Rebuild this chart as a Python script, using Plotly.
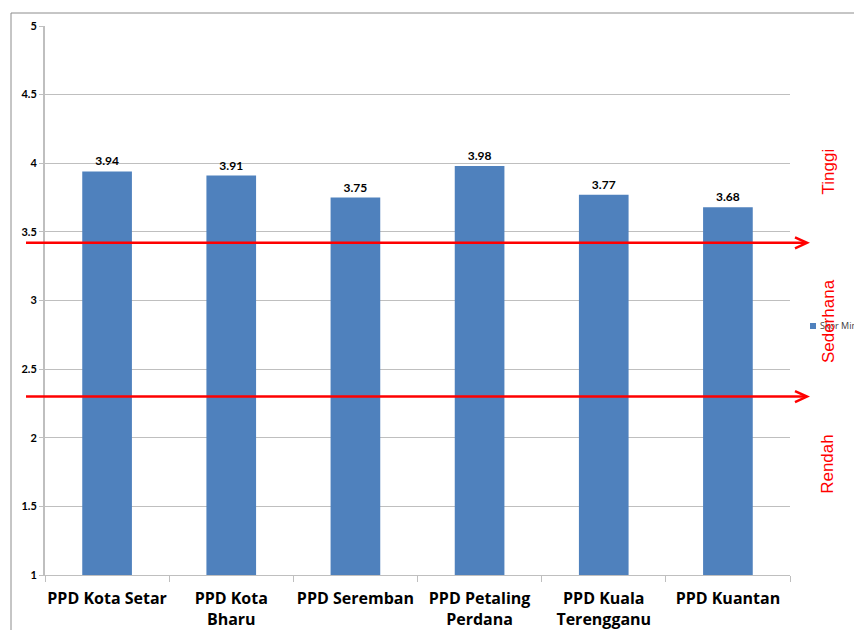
import plotly.graph_objects as go

categories = ["PPD Kota Setar", "PPD Kota<br>Bharu", "PPD Seremban", "PPD Petaling<br>Perdana",
              "PPD Kuala<br>Terengganu", "PPD Kuantan"]
skor_min = [3.94, 3.91, 3.75, 3.98, 3.77, 3.68]
series_name = "Skor Min"
y_ticks = [1, 1.5, 2, 2.5, 3, 3.5, 4, 4.5, 5]
band_lines = [3.42, 2.30]
band_labels = [("Tinggi", 3.94), ("Sederhana", 2.85), ("Rendah", 1.81)]

OFF = 8  # page body margin
W, H = 862, 630
# plot area in page pixels: x 45..790, y 26..575
L = 45 - OFF
T = 26 - OFF
R = W - (790 - OFF)
B = H - (575 - OFF)
pw = W - L - R
ph = H - T - B
y_per_px = 4.0 / ph

def px_x(p):
    return (p - OFF - L) / pw

def px_y(p):
    return (H - B - (p - OFF)) / ph

fig = go.Figure()
fig.add_trace(go.Bar(
    x=categories, y=skor_min, name=series_name,
    marker=dict(color="#4F81BD", line=dict(width=0)),
    width=0.4,
    text=[f"{v:.2f}" for v in skor_min], textposition="outside",
    textfont=dict(family="Lato", size=12, color="#000000", weight="bold"),
    cliponaxis=False, showlegend=False,
))

shapes = [dict(type="rect", xref="paper", yref="paper",
               x0=px_x(11), x1=px_x(900), y0=px_y(700), y1=px_y(13),
               line=dict(color="#8C8C8C", width=1), layer="below")]
for yv in band_lines:
    shapes.append(dict(type="line", xref="paper", yref="y",
                       x0=px_x(26), x1=px_x(806), y0=yv, y1=yv,
                       line=dict(color="#FF0000", width=2.5)))
    tip = px_x(807)
    back = px_x(795)
    dy = 5.5 * y_per_px
    shapes.append(dict(type="path", xref="paper", yref="y",
                       path=f"M {back},{yv + dy} L {tip},{yv} L {back},{yv - dy}",
                       line=dict(color="#FF0000", width=2.5)))

# legend drawn as a marker square + text
shapes.append(dict(type="rect", xref="paper", yref="paper",
                   x0=px_x(810), x1=px_x(816), y0=px_y(329), y1=px_y(323),
                   fillcolor="#4F81BD", line=dict(width=0)))

annotations = [dict(x=px_x(818), xref="paper", y=px_y(326), yref="paper",
                    text=series_name, showarrow=False, xanchor="left", yanchor="middle",
                    font=dict(family="Open Sans", size=9, color="#404040"))]
for txt, yv in band_labels:
    annotations.append(dict(
        x=px_x(828), xref="paper", y=yv, yref="y", text=txt, showarrow=False,
        textangle=-90, font=dict(family="Liberation Sans", size=17, color="#FF0000"),
        xanchor="center", yanchor="middle",
    ))

fig.update_layout(
    width=W, height=H,
    margin=dict(l=L, r=R, t=T, b=B, autoexpand=False),
    paper_bgcolor="white", plot_bgcolor="white",
    bargap=0.6,
    showlegend=False,
    xaxis=dict(
        showline=True, linecolor="#BFBFBF", linewidth=1,
        ticks="outside", ticklen=6, tickcolor="#BFBFBF", tickson="boundaries",
        tickangle=0, automargin=False, ticklabelstandoff=9,
        tickfont=dict(family="Open Sans", size=16, color="#000000", weight="bold"),
        showgrid=False,
    ),
    yaxis=dict(
        range=[1, 5], tickvals=y_ticks, ticktext=[f"{v:g}" for v in y_ticks],
        showline=True, linecolor="#BFBFBF", linewidth=2,
        ticks="outside", ticklen=4, tickcolor="#BFBFBF",
        gridcolor="#BFBFBF", gridwidth=1, zeroline=False, automargin=False,
        tickfont=dict(family="Lato", size=11, color="#000000", weight="bold"),
    ),
    annotations=annotations,
    shapes=shapes,
)

fig.write_html("out.html")
